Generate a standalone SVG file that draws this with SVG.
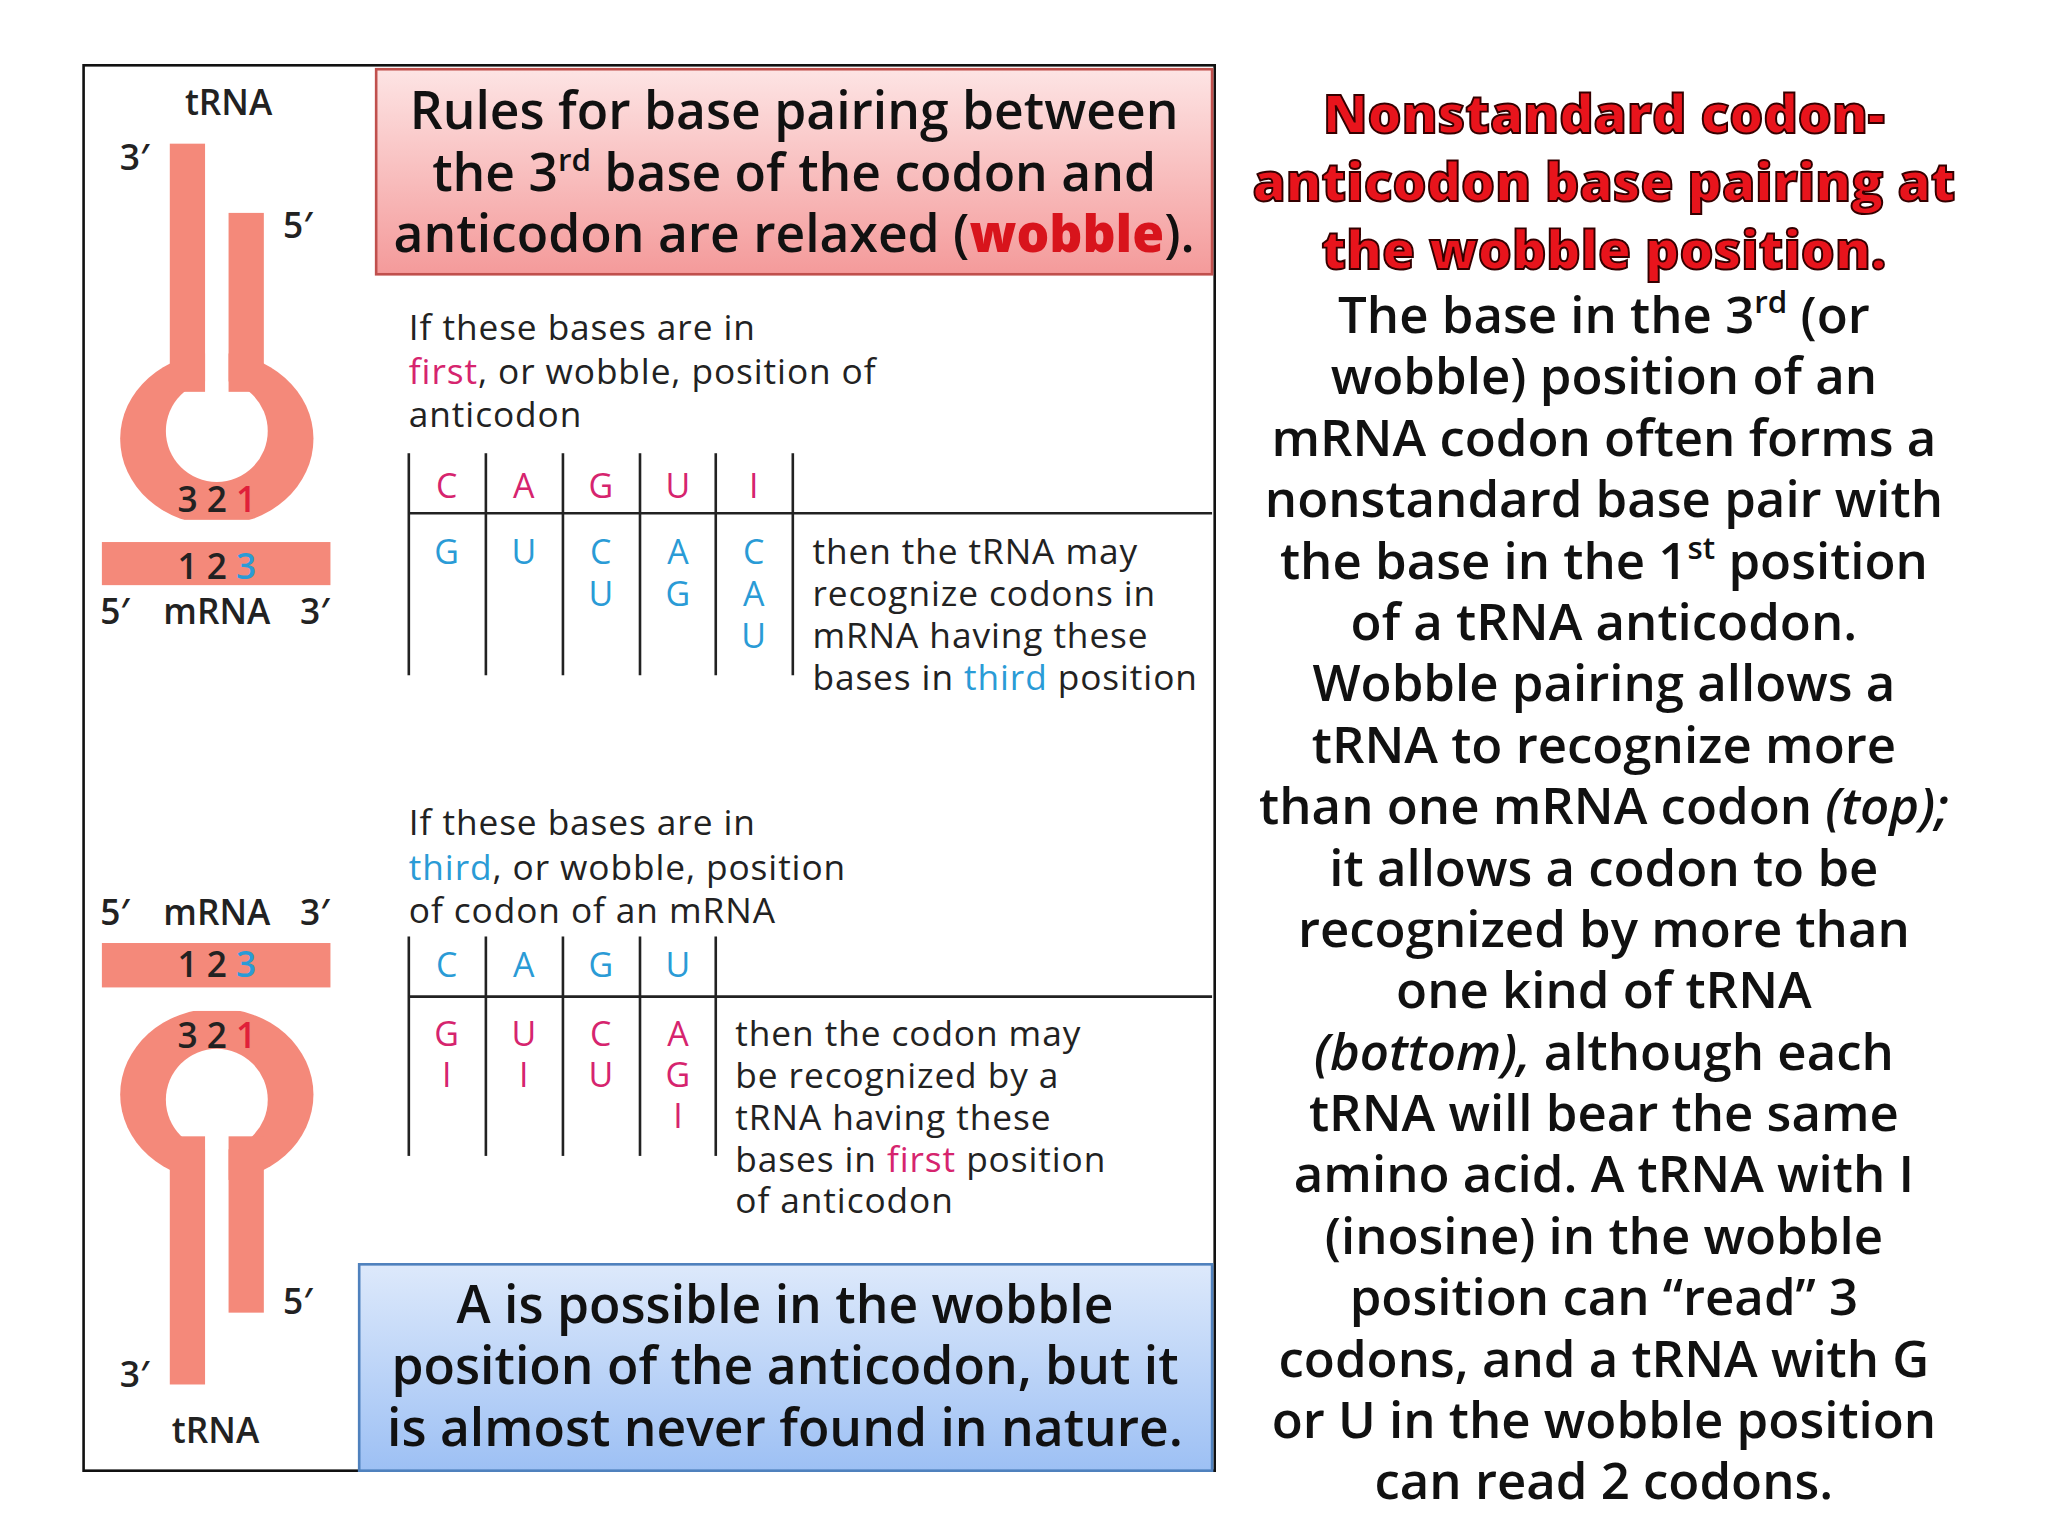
<svg xmlns="http://www.w3.org/2000/svg" width="2048" height="1536" viewBox="0 0 2048 1536">
<defs>
<linearGradient id="rg" x1="0" y1="0" x2="0" y2="1"><stop offset="0" stop-color="#fde4e4"/><stop offset="1" stop-color="#f49a9a"/></linearGradient>
<linearGradient id="bg" x1="0" y1="0" x2="0" y2="1"><stop offset="0" stop-color="#dde9fb"/><stop offset="1" stop-color="#9dc0f4"/></linearGradient>
<style>
.h{font-family:"Open Sans","Liberation Sans",sans-serif;font-weight:600;font-size:39.5px;text-anchor:middle;fill:#111}
.t{font-family:"Open Sans","Liberation Sans",sans-serif;font-size:27px;letter-spacing:0.7px;fill:#222}
.l{font-family:"Open Sans","Liberation Sans",sans-serif;font-size:26px;text-anchor:middle}
.m{fill:#d6246e}.b{fill:#2a9bd6}
.r{font-family:"Open Sans","Liberation Sans",sans-serif;font-weight:600;font-size:39px;text-anchor:middle;fill:#111}
.ti{font-family:"Open Sans","Liberation Sans",sans-serif;font-weight:800;font-size:41px;text-anchor:middle;fill:#e8141c;stroke:#300;stroke-width:1.5}
.g{stroke:#222;stroke-width:2}
.s{fill:#f4897a}
.d{font-family:"Open Sans","Liberation Sans",sans-serif;font-weight:600;font-size:27px;fill:#222;text-anchor:middle}
</style>
</defs>
<rect width="2048" height="1536" fill="#fff"/>
<g transform="scale(1.30612)">
<rect x="64" y="50" width="866" height="1076" fill="#fff" stroke="#111" stroke-width="2"/>
<g id="trna-top">
<ellipse class="s" cx="166" cy="336" rx="74" ry="66"/>
<rect x="100" y="398" width="132" height="10" fill="#fff"/>
<circle cx="166" cy="330" r="39" fill="#fff"/>
<rect x="157" y="250" width="18" height="60" fill="#fff"/>
<rect class="s" x="130" y="110" width="27" height="190"/>
<rect class="s" x="175" y="163" width="27" height="137"/>
<text class="d" x="175" y="88">tRNA</text>
<text class="d" x="103" y="130">3′</text>
<text class="d" x="228" y="182">5′</text>
<text class="d" x="166" y="392">3 2 <tspan fill="#e0203a">1</tspan></text>
<rect class="s" x="78" y="415" width="175" height="33"/>
<text class="d" x="166" y="443">1 2 <tspan class="b">3</tspan></text>
<text class="d" x="88" y="478">5′</text><text class="d" x="166" y="478">mRNA</text><text class="d" x="241" y="478">3′</text>
</g>
<g id="trna-bottom">
<text class="d" x="88" y="708">5′</text><text class="d" x="166" y="708">mRNA</text><text class="d" x="241" y="708">3′</text>
<rect class="s" x="78" y="722" width="175" height="34"/>
<text class="d" x="166" y="748">1 2 <tspan class="b">3</tspan></text>
<ellipse class="s" cx="166" cy="838" rx="74" ry="66"/>
<rect x="100" y="764" width="132" height="10" fill="#fff"/>
<circle cx="166" cy="842" r="39" fill="#fff"/>
<rect x="157" y="862" width="18" height="60" fill="#fff"/>
<rect class="s" x="130" y="870" width="27" height="190"/>
<rect class="s" x="175" y="870" width="27" height="135"/>
<text class="d" x="166" y="802">3 2 <tspan fill="#e0203a">1</tspan></text>
<text class="d" x="228" y="1006">5′</text>
<text class="d" x="103" y="1062">3′</text>
<text class="d" x="165" y="1105">tRNA</text>
</g>
<g id="rules-box">
<rect x="288" y="53" width="640" height="157" fill="url(#rg)" stroke="#c0504d" stroke-width="2"/>
<text class="h" x="608" y="99">Rules for base pairing between</text>
<text class="h" x="608" y="146">the 3<tspan font-size="24" dy="-15">rd</tspan><tspan dy="15"> base of the codon and</tspan></text>
<text class="h" x="608" y="193">anticodon are relaxed (<tspan fill="#d8141c" font-weight="800">wobble</tspan>).</text>
</g>
<g id="table-top">
<text class="t" x="313" y="260">If these bases are in</text>
<text class="t" x="313" y="294"><tspan class="m">first</tspan>, or wobble, position of</text>
<text class="t" x="313" y="327">anticodon</text>
<g class="g"><line x1="313" y1="347" x2="313" y2="517"/><line x1="372" y1="347" x2="372" y2="517"/><line x1="431" y1="347" x2="431" y2="517"/><line x1="490" y1="347" x2="490" y2="517"/><line x1="548" y1="347" x2="548" y2="517"/><line x1="607" y1="347" x2="607" y2="517"/><line x1="313" y1="393" x2="928" y2="393"/></g>
<g class="l m"><text x="342" y="381">C</text><text x="401" y="381">A</text><text x="460" y="381">G</text><text x="519" y="381">U</text><text x="577" y="381">I</text></g>
<g class="l b"><text x="342" y="432">G</text><text x="401" y="432">U</text><text x="460" y="432">C</text><text x="460" y="464">U</text><text x="519" y="432">A</text><text x="519" y="464">G</text><text x="577" y="432">C</text><text x="577" y="464">A</text><text x="577" y="496">U</text></g>
<text class="t" x="622" y="432">then the tRNA may</text>
<text class="t" x="622" y="464">recognize codons in</text>
<text class="t" x="622" y="496">mRNA having these</text>
<text class="t" x="622" y="528">bases in <tspan class="b">third</tspan> position</text>
</g>
<g id="table-bottom">
<text class="t" x="313" y="639">If these bases are in</text>
<text class="t" x="313" y="674"><tspan class="b">third</tspan>, or wobble, position</text>
<text class="t" x="313" y="707">of codon of an mRNA</text>
<g class="g"><line x1="313" y1="717" x2="313" y2="885"/><line x1="372" y1="717" x2="372" y2="885"/><line x1="431" y1="717" x2="431" y2="885"/><line x1="490" y1="717" x2="490" y2="885"/><line x1="548" y1="717" x2="548" y2="885"/><line x1="313" y1="763" x2="928" y2="763"/></g>
<g class="l b"><text x="342" y="748">C</text><text x="401" y="748">A</text><text x="460" y="748">G</text><text x="519" y="748">U</text></g>
<g class="l m"><text x="342" y="801">G</text><text x="342" y="832">I</text><text x="401" y="801">U</text><text x="401" y="832">I</text><text x="460" y="801">C</text><text x="460" y="832">U</text><text x="519" y="801">A</text><text x="519" y="832">G</text><text x="519" y="864">I</text></g>
<text class="t" x="563" y="801">then the codon may</text>
<text class="t" x="563" y="833">be recognized by a</text>
<text class="t" x="563" y="865">tRNA having these</text>
<text class="t" x="563" y="897">bases in <tspan class="m">first</tspan> position</text>
<text class="t" x="563" y="929">of anticodon</text>
</g>
<g id="note-box">
<rect x="275" y="968" width="653" height="158" fill="url(#bg)" stroke="#4f81bd" stroke-width="2"/>
<text class="h" x="601" y="1013">A is possible in the wobble</text>
<text class="h" x="601" y="1060">position of the anticodon, but it</text>
<text class="h" x="601" y="1107">is almost never found in nature.</text>
</g>
<g id="right-text">
<text class="ti" x="1228" y="102">Nonstandard codon-</text>
<text class="ti" x="1228" y="154">anticodon base pairing at</text>
<text class="ti" x="1228" y="206">the wobble position.</text>
<text class="r" x="1228" y="255">The base in the 3<tspan font-size="24" dy="-15">rd</tspan><tspan dy="15">  (or</tspan></text>
<text class="r" x="1228" y="302">wobble) position of an</text>
<text class="r" x="1228" y="349">mRNA codon often forms a</text>
<text class="r" x="1228" y="396">nonstandard base pair with</text>
<text class="r" x="1228" y="443">the base in the 1<tspan font-size="24" dy="-15">st</tspan><tspan dy="15"> position</tspan></text>
<text class="r" x="1228" y="490">of a tRNA anticodon.</text>
<text class="r" x="1228" y="537">Wobble pairing allows a</text>
<text class="r" x="1228" y="584">tRNA to recognize more</text>
<text class="r" x="1228" y="631">than one mRNA codon <tspan font-style="italic">(top);</tspan></text>
<text class="r" x="1228" y="678">it allows a codon to be</text>
<text class="r" x="1228" y="725">recognized by more than</text>
<text class="r" x="1228" y="772">one kind of tRNA</text>
<text class="r" x="1228" y="819"><tspan font-style="italic">(bottom),</tspan> although each</text>
<text class="r" x="1228" y="866">tRNA will bear the same</text>
<text class="r" x="1228" y="913">amino acid. A tRNA with I</text>
<text class="r" x="1228" y="960">(inosine) in the wobble</text>
<text class="r" x="1228" y="1007">position can “read” 3</text>
<text class="r" x="1228" y="1054">codons, and a tRNA with G</text>
<text class="r" x="1228" y="1101">or U in the wobble position</text>
<text class="r" x="1228" y="1148">can read 2 codons.</text>
</g>
</g>
</svg>
